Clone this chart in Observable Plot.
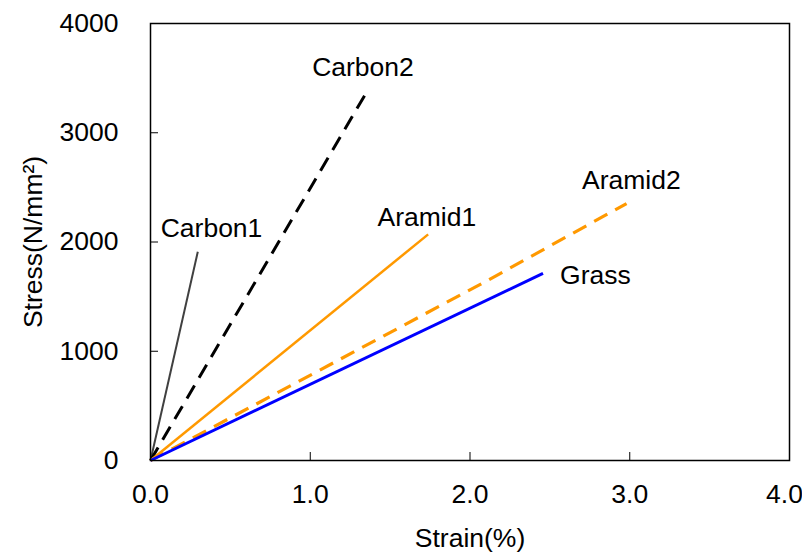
<!DOCTYPE html>
<html>
<head>
<meta charset="utf-8">
<script src="https://cdn.jsdelivr.net/npm/d3@7"></script>
<script src="https://cdn.jsdelivr.net/npm/@observablehq/plot@0.6"></script>
<style>
  html, body { margin: 0; padding: 0; background: #fff; }
  svg { display: block; }
</style>
</head>
<body>
<div id="chart"></div>
<script>
// Series data (strain %, stress N/mm²)
const carbon1 = [[0, 0], [0.296, 1910]];
const carbon2 = [[0, 0], [1.356, 3380]];
const aramid1 = [[0, 0], [1.738, 2070]];
const aramid2 = [[0, 0], [2.1, 1640], [2.98, 2352]];
const grass   = [[0, 0], [2.457, 1713]];

// Label names and positions (data coords)
const labelNames = ["Carbon1", "Carbon2", "Aramid1", "Aramid2", "Grass"];
const labelX = [0.382, 1.33, 1.73, 3.01, 2.785];
const labelY = [2128, 3596, 2220, 2562, 1697];

const xTicks = [0, 1, 2, 3];
const xLastTick = [4];
const yTicks = [0, 1000, 2000, 3000, 4000];
const xInnerTicks = [1, 2, 3];
const yInnerTicks = [1000, 2000, 3000];

const series = [
  {name: "Carbon1", pts: carbon1, stroke: "#404040", width: 2, dash: null},
  {name: "Carbon2", pts: carbon2, stroke: "#000000", width: 3, dash: "15,9"},
  {name: "Aramid1", pts: aramid1, stroke: "#FF9900", width: 2.5, dash: null},
  {name: "Aramid2", pts: aramid2, stroke: "#FF9900", width: 3.2, dash: "15,9"},
  {name: "Grass",   pts: grass,   stroke: "#0000FF", width: 3, dash: null}
];

const labels = labelNames.map((n, i) => ({name: n, x: labelX[i], y: labelY[i]}));

const font = "'Liberation Sans', Arial, sans-serif";
const fs = 26.5;
const fmtX = d3.format(".1f");

const lineMarks = series.map(s => Plot.line(s.pts, {
  x: d => d[0], y: d => d[1],
  stroke: s.stroke, strokeWidth: s.width,
  strokeDasharray: s.dash, strokeLinecap: "butt"
}));

const chart = Plot.plot({
  width: 802,
  height: 556,
  marginLeft: 150,
  marginRight: 13,
  marginTop: 23,
  marginBottom: 96,
  style: {fontFamily: font, background: "#fff", color: "#000"},
  x: {domain: [0, 4]},
  y: {domain: [0, 4000]},
  marks: [
    ...lineMarks,
    Plot.text(labels, {x: "x", y: "y", text: "name", fontSize: fs, fill: "#000"}),
    Plot.axisX({ticks: xTicks, tickSize: 0, tickPadding: 24, tickFormat: fmtX, fontSize: fs,
      label: "Strain(%)", labelAnchor: "center", labelArrow: "none", labelOffset: 86}),
    Plot.text(xLastTick, {x: d => d, frameAnchor: "bottom", text: d => fmtX(d), fontSize: fs,
      lineAnchor: "top", dy: 24, dx: -5, fill: "#000"}),
    Plot.axisX({ticks: xInnerTicks, tickSize: -8, tickFormat: () => "", label: null, strokeWidth: 1}),
    Plot.axisY({ticks: yTicks, tickSize: 0, tickPadding: 32, fontSize: fs, tickFormat: d3.format("d"),
      label: "Stress(N/mm²)", labelAnchor: "center", labelArrow: "none", labelOffset: 127}),
    Plot.axisY({ticks: yInnerTicks, tickSize: -8, tickFormat: () => "", label: null, strokeWidth: 1}),
    Plot.frame({stroke: "#000", strokeWidth: 1.5})
  ]
});

document.getElementById("chart").appendChild(chart);
</script>
</body>
</html>
